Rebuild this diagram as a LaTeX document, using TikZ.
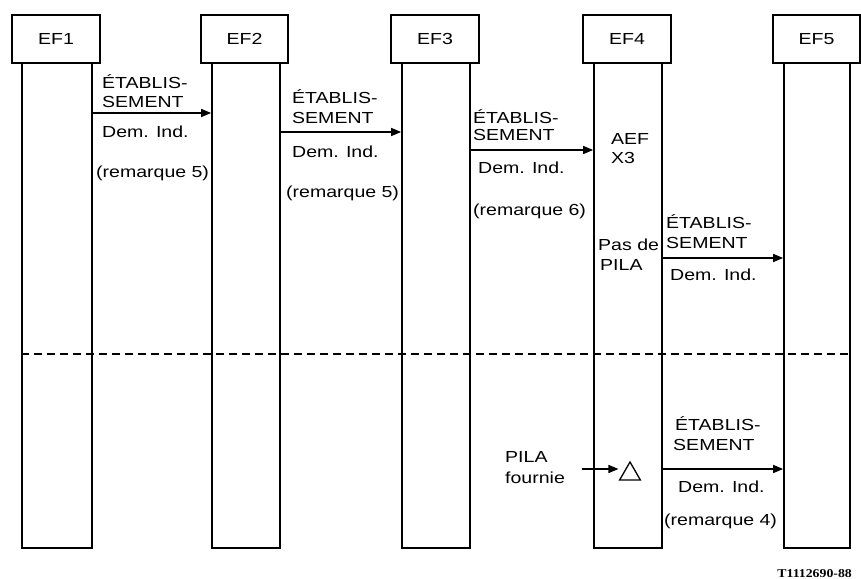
\documentclass[tikz,border=0pt]{standalone}
\usepackage{fontspec}
\newfontfamily\lblfont[FakeStretch=1.22]{Liberation Sans}
\newfontfamily\refnumfont[FakeStretch=1.15]{Liberation Serif}
\usetikzlibrary{arrows.meta,shapes.geometric}
\begin{document}
\begin{tikzpicture}[x=1pt,y=-1pt,
  hdr/.style={draw,line width=1.7pt,minimum height=48pt,inner sep=0pt,font=\lblfont\fontsize{16}{16}\selectfont},
  col/.style={draw,line width=1.7pt,inner sep=0pt,minimum height=485pt},
  lbl/.style={anchor=base west,inner sep=0pt,font=\lblfont\fontsize{16}{16}\selectfont},
  msg/.style={line width=1.4pt,-{Triangle[length=10pt,width=8pt]}},
  sep/.style={line width=1.6pt,dash pattern=on 8pt off 5pt},
]
\useasboundingbox (0,0) rectangle (861,578);

% header boxes
\node[hdr,minimum width=88pt] (h1) at (56,39) {EF1};
\node[hdr,minimum width=87pt] (h2) at (244.5,39) {EF2};
\node[hdr,minimum width=88pt] (h3) at (435,39) {EF3};
\node[hdr,minimum width=88pt] (h4) at (627,39) {EF4};
\node[hdr,minimum width=87pt] (h5) at (816.5,39) {EF5};

% columns
\node[col,minimum width=70pt] (c1) at (57,305.5) {};
\node[col,minimum width=68pt] (c2) at (246,305.5) {};
\node[col,minimum width=68pt] (c3) at (436,305.5) {};
\node[col,minimum width=68pt] (c4) at (628,305.5) {};
\node[col,minimum width=66pt] (c5) at (817,305.5) {};

% separator
\coordinate (dl) at (0,354);
\draw[sep] (c1.west |- dl) -- (c5.east |- dl);

% message 1 : EF1 -> EF2
\coordinate (y1) at (0,113);
\draw[msg] (c1.east |- y1) -- (c2.west |- y1);
\node[lbl] (m1a) at (102,88) {ÉTABLIS-};
\node[lbl] (m1b) at (102,107) {SEMENT};
\node[lbl] (m1c) at (102,137) {Dem. Ind.};
\node[lbl] (m1d) at (96,177) {(remarque 5)};

% message 2 : EF2 -> EF3
\coordinate (y2) at (0,132);
\draw[msg] (c2.east |- y2) -- (c3.west |- y2);
\node[lbl] (m2a) at (292,103) {ÉTABLIS-};
\node[lbl] (m2b) at (292,123) {SEMENT};
\node[lbl] (m2c) at (292,157) {Dem. Ind.};
\node[lbl] (m2d) at (286,197) {(remarque 5)};

% message 3 : EF3 -> EF4
\coordinate (y3) at (0,150);
\draw[msg] (c3.east |- y3) -- (c4.west |- y3);
\node[lbl] (m3a) at (473,123) {ÉTABLIS-};
\node[lbl] (m3b) at (473,140) {SEMENT};
\node[lbl] (m3c) at (478,173) {Dem. Ind.};
\node[lbl] (m3d) at (473,215) {(remarque 6)};

% EF4 notes
\node[lbl] (aef) at (611,144) {AEF};
\node[lbl] (x3) at (611,163) {X3};
\node[lbl] (pas) at (598,250) {Pas de};
\node[lbl] (pila1) at (600,270) {PILA};

% message 4 : EF4 -> EF5
\coordinate (y4) at (0,258);
\draw[msg] (c4.east |- y4) -- (c5.west |- y4);
\node[lbl] (m4a) at (666,228) {ÉTABLIS-};
\node[lbl] (m4b) at (666,248) {SEMENT};
\node[lbl] (m4c) at (670,280) {Dem. Ind.};

% lower part
\node[lbl] (pila2) at (505,462) {PILA};
\node[lbl] (four) at (505,483) {fournie};
\node[draw,regular polygon,regular polygon sides=3,minimum size=24pt,inner sep=0pt,line width=1.3pt] (tri) at (630,474) {};
\coordinate (pfs) at (582,469);
\draw[msg] (pfs) -- (pfs -| tri.corner 2);

% message 5 : EF4 -> EF5
\coordinate (y5) at (0,469);
\draw[msg] (c4.east |- y5) -- (c5.west |- y5);
\node[lbl] (m5a) at (675,430) {ÉTABLIS-};
\node[lbl] (m5b) at (673,450) {SEMENT};
\node[lbl] (m5c) at (678,492) {Dem. Ind.};
\node[lbl] (m5d) at (664,525) {(remarque 4)};

% reference number
\node[anchor=base east,inner sep=0pt,font=\refnumfont\bfseries\fontsize{12}{12}\selectfont] (ref) at (852,577) {T1112690-88};
\end{tikzpicture}
\end{document}
